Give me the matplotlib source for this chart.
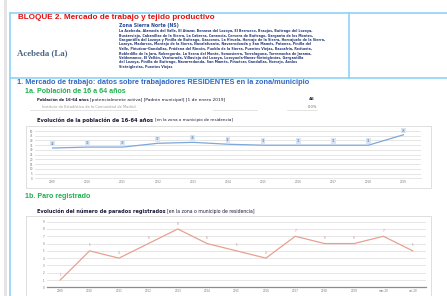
import matplotlib
matplotlib.use("Agg")
import matplotlib.pyplot as plt
import numpy as np

# ── data ───────────────────────────────────────────────────────────────────────
pob_years  = ["2009", "2010", "2011", "2012", "2013", "2014", "2015", "2016", "2017", "2018", "2019"]
pob_values = [32, 33, 33, 37, 38, 36, 35, 35, 35, 35, 46]

paro_labels = ["2009", "2010", "2011", "2012", "2013", "2014", "2015", "2016", "2017", "2018", "2019",
               "mar-20", "oct-20"]
paro_values = [1, 5, 4, 6, 8, 6, 5, 4, 7, 6, 6, 7, 5]

municipios = [
    "La Acebeda, Alameda del Valle, El Atazar, Berzosa del Lozoya, El Berrueco, Braojos, Buitrago del Lozoya,",
    "Bustarviejo, Cabanillas de la Sierra, La Cabrera, Canencia, Cervera de Buitrago, Garganta de los Montes,",
    "Gargantilla del Lozoya y Pinilla de Buitrago, Gascones, La Hiruela, Horcajo de la Sierra, Horcajuelo de la Sierra,",
    "Lozoya, Madarcos, Montejo de la Sierra, Navalafuente, Navarredonda y San Mamés, Patones, Pinilla del",
    "Valle, Piñuécar-Gandullas, Prádena del Rincón, Puebla de la Sierra, Puentes Viejas, Rascafría, Redueña,",
    "Robledillo de la Jara, Robregordo, La Serna del Monte, Somosierra, Torrelaguna, Torremocha de Jarama,",
    "Valdemanco, El Vellón, Venturada, Villavieja del Lozoya, Lozoyuela-Navas-Sieteiglesias, Gargantilla",
    "del Lozoya, Pinilla de Buitrago, Navarredonda, San Mamés, Piñuécar, Gandullas, Horcajo, Aoslos",
    "Sieteiglesias, Puentes Viejas",
]

W, H = 447, 296
BLUE_LINE = "#8ed3f5"
DARK = "#1a1a3a"
fig = plt.figure(figsize=(W / 100, H / 100), dpi=100)
fig.patch.set_facecolor("white")

# page layer in pixel coordinates
pg = fig.add_axes([0, 0, 1, 1])
pg.set_xlim(0, W)
pg.set_ylim(H, 0)
pg.axis("off")

pg.fill_between([4, 7], 0, H, color="#e4e4e4", lw=0)
pg.plot([10, 10], [13, H], color=BLUE_LINE, lw=1.2)
pg.plot([10, W], [13, 13], color=BLUE_LINE, lw=1.2)
pg.plot([10, W], [78, 78], color=BLUE_LINE, lw=1.2)
pg.plot([349, 349], [13, 78], color=BLUE_LINE, lw=1.2)

pg.text(18, 17.5, "BLOQUE 2. Mercado de trabajo y tejido productivo", color="#e01010",
        fontsize=5.85, fontweight="bold", va="center", family="Liberation Sans")
pg.text(119, 25, "Zona Sierra Norte (NS)", color="#2a4a9a", fontsize=3.3,
        fontweight="bold", va="center", family="DejaVu Sans")
for i, line in enumerate(municipios):
    pg.text(119, 31 + i * 4.5, line, color="#2a3a7a", fontsize=2.3, fontweight="bold",
            va="center", family="DejaVu Sans")
pg.text(17, 53, "Acebeda (La)", color="#4a6585", fontsize=6.4, fontweight="bold",
        va="center", family="Liberation Serif")

pg.text(17, 82.5, "1. Mercado de trabajo: datos sobre trabajadores RESIDENTES en la zona/municipio",
        color="#3466c0", fontsize=5.3, fontweight="bold", va="center", family="Liberation Sans")
pg.text(25, 91.5, "1a. Población de 16 a 64 años", color="#20b050", fontsize=5.1,
        fontweight="bold", va="center", family="Liberation Sans")

pg.text(37, 100, "Población de 16-64 años", color=DARK, fontsize=2.7,
        fontweight="bold", va="center", family="DejaVu Sans")
pg.text(90, 100, "[potencialmente activa] [Padrón municipal] [1 de enero 2019]", color=DARK,
        fontsize=3.2, va="center", family="DejaVu Sans")
pg.text(312, 99, "46", color=DARK, fontsize=3.0, fontweight="bold", ha="center",
        va="center", family="DejaVu Sans")
pg.text(42, 106.5, "Instituto de Estadística de la Comunidad de Madrid", color="#9a9a9a",
        fontsize=2.6, va="center", family="DejaVu Sans")
pg.text(312, 107, "0,0%", color="#6a6a6a", fontsize=2.6, ha="center", va="center",
        family="DejaVu Sans")
for x0, x1 in [(30, 137), (213, 257), (287, 317)]:
    pg.plot([x0, x1], [109.5, 109.5], color="#d8d8d8", lw=0.5)

pg.text(37, 120, "Evolución de la población de 16-64 años", color=DARK, fontsize=3.7,
        fontweight="bold", va="center", family="DejaVu Sans")
pg.text(155, 120, "[en la zona o municipio de residencia]", color=DARK, fontsize=3.0,
        va="center", family="DejaVu Sans")

pg.text(25, 197, "1b. Paro registrado", color="#20b050", fontsize=5.1,
        fontweight="bold", va="center", family="Liberation Sans")
pg.text(37, 211, "Evolución del número de parados registrados", color=DARK, fontsize=3.6,
        fontweight="bold", va="center", family="DejaVu Sans")
pg.text(167, 211, "[en la zona o municipio de residencia]", color=DARK, fontsize=3.3,
        va="center", family="DejaVu Sans")

# chart frames
for y0, y1 in [(126, 188), (216, 300)]:
    pg.add_patch(plt.Rectangle((26, y0), 405, y1 - y0, fill=False, ec="#d9d9d9", lw=0.6))


def px_axes(x0, y0, x1, y1):
    return fig.add_axes([x0 / W, 1 - y1 / H, (x1 - x0) / W, (y1 - y0) / H])


def style(ax):
    for s in ["top", "right", "left"]:
        ax.spines[s].set_visible(False)
    ax.tick_params(length=0, labelsize=2.0, colors="#777777", pad=1.5)
    ax.grid(axis="y", color="#e2e2e2", lw=0.6)
    ax.set_axisbelow(True)
    ax.patch.set_alpha(0)


# ── chart 1: población ────────────────────────────────────────────────────────
ax1 = px_axes(35, 131, 421, 178.3)
x1 = np.arange(len(pob_years))
ax1.plot(x1, pob_values, color="#7fa8d8", lw=0.9)
for xi, v in zip(x1, pob_values):
    ax1.text(xi, v + 4.5, str(v), fontsize=2.0, color="#4a6fa0", ha="center", va="center",
             bbox=dict(boxstyle="square,pad=0.25", fc="#dbe6f4", ec="none"))
ax1.set_ylim(0, 50)
ax1.set_yticks(range(0, 51, 5))
ax1.set_xlim(-0.5, len(pob_years) - 0.5)
ax1.set_xticks(x1)
ax1.set_xticklabels(pob_years)
style(ax1)
ax1.spines["bottom"].set_color("#e2e2e2")
ax1.spines["bottom"].set_linewidth(0.6)

# ── chart 2: paro ─────────────────────────────────────────────────────────────
ax2 = px_axes(47, 221.7, 426, 287.3)
x2 = np.arange(len(paro_labels))
ax2.plot(x2, paro_values, color="#e8a090", lw=0.9)
for xi, v in zip(x2, paro_values):
    ax2.text(xi, v + 0.75, str(v), fontsize=2.0, color="#d07a68", ha="center", va="center")
ax2.set_ylim(0, 9)
ax2.set_yticks(range(0, 10))
ax2.set_xlim(-0.45, len(paro_labels) - 0.55)
ax2.set_xticks(x2)
ax2.set_xticklabels(paro_labels)
style(ax2)
ax2.spines["bottom"].set_color("#8c8c8c")
ax2.spines["bottom"].set_linewidth(0.9)

plt.savefig("out.png", dpi=100)
